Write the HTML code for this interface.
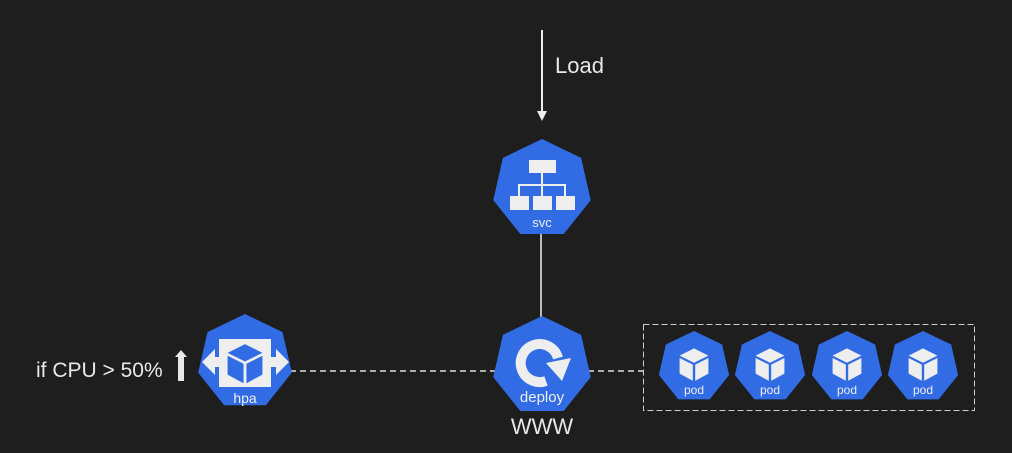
<!DOCTYPE html>
<html><head><meta charset="utf-8"><style>
html,body{margin:0;padding:0;background:#1e1e1e;}
svg{display:block;font-family:"Liberation Sans",Arial,sans-serif;}
</style></head><body>
<svg width="1012" height="453" viewBox="0 0 1012 453" xmlns="http://www.w3.org/2000/svg">
<defs>
<polygon id="hep" points="0,-1 0.7818,-0.6235 0.9749,0.2225 0.4339,0.901 -0.4339,0.901 -0.9749,0.2225 -0.7818,-0.6235" fill="#326ce5"/>
<g id="cube">
<polygon points="0,-13 12,-7 0,-1 -12,-7" fill="#eee"/>
<polygon points="-12,-5 -1,0.5 -1,14 -12,8" fill="#eee"/>
<polygon points="12,-5 1,0.5 1,14 12,8" fill="#eee"/>
</g>
</defs>
<rect width="1012" height="453" fill="#1e1e1e"/>
<line x1="542" y1="30" x2="542" y2="112" stroke="#eee" stroke-width="2"/>
<polygon points="537,111 547,111 542,121" fill="#eee"/>
<text x="555" y="73" fill="#e8e8e8" font-size="22">Load</text>
<line x1="541" y1="232" x2="541" y2="320" stroke="#bbb" stroke-width="2"/>
<line x1="290" y1="371" x2="497" y2="371" stroke="#ddd" stroke-width="1.5" stroke-dasharray="6,4"/>
<line x1="588" y1="371" x2="643" y2="371" stroke="#ddd" stroke-width="1.5" stroke-dasharray="6,4"/>
<rect x="643.5" y="324.5" width="331" height="86" fill="none" stroke="#ccc" stroke-width="1" stroke-dasharray="6,3"/>
<!-- svc -->
<use href="#hep" transform="translate(542,189) scale(50)"/>
<g fill="#eee">
<rect x="529" y="160" width="27" height="13"/>
<rect x="510" y="196" width="19" height="14"/>
<rect x="533" y="196" width="19" height="14"/>
<rect x="556" y="196" width="19" height="14"/>
</g>
<g stroke="#eee" stroke-width="2" fill="none">
<line x1="542" y1="173" x2="542" y2="196"/>
<polyline points="519,196 519,185 565,185 565,196"/>
</g>
<text x="542" y="227" fill="#eee" font-size="13" text-anchor="middle">svc</text>
<!-- deploy -->
<use href="#hep" transform="translate(542,366) scale(50)"/>
<path d="M558,358 A19,19 0 1 0 546,381" stroke="#eee" stroke-width="10" fill="none"/>
<polygon points="546,363 571,358 562,381" fill="#eee"/>
<text x="542" y="402" fill="#eee" font-size="15" text-anchor="middle">deploy</text>
<text x="542" y="434" fill="#e8e8e8" font-size="22" text-anchor="middle">WWW</text>
<!-- hpa -->
<use href="#hep" transform="translate(245,362) scale(48)"/>
<rect x="219" y="339" width="52" height="48" fill="#eee"/>
<polygon points="202,362 215,349 215,357 222,357 222,367 215,367 215,375" fill="#eee"/>
<polygon points="289,362 276,349 276,357 268,357 268,367 276,367 276,375" fill="#eee"/>
<g transform="translate(245,363) scale(1.45)">
<polygon points="0,-13 12,-7 0,-1 -12,-7" fill="#326ce5"/>
<polygon points="-12,-5 -1,0.5 -1,14 -12,8" fill="#326ce5"/>
<polygon points="12,-5 1,0.5 1,14 12,8" fill="#326ce5"/>
</g>
<text x="245" y="403" fill="#eee" font-size="14" text-anchor="middle">hpa</text>
<text x="36" y="377" fill="#e8e8e8" font-size="21">if CPU &gt; 50%</text>
<polygon points="181,350 187,357 184,357 184,381 178,381 178,357 175,357" fill="#e8e8e8"/>
<!-- pods -->
<use href="#hep" transform="translate(694,367) scale(36)"/>
<use href="#cube" transform="translate(694,364) scale(1.2)"/>
<text x="694" y="394" fill="#eee" font-size="12" text-anchor="middle">pod</text>
<use href="#hep" transform="translate(770,367) scale(36)"/>
<use href="#cube" transform="translate(770,364) scale(1.2)"/>
<text x="770" y="394" fill="#eee" font-size="12" text-anchor="middle">pod</text>
<use href="#hep" transform="translate(847,367) scale(36)"/>
<use href="#cube" transform="translate(847,364) scale(1.2)"/>
<text x="847" y="394" fill="#eee" font-size="12" text-anchor="middle">pod</text>
<use href="#hep" transform="translate(923,367) scale(36)"/>
<use href="#cube" transform="translate(923,364) scale(1.2)"/>
<text x="923" y="394" fill="#eee" font-size="12" text-anchor="middle">pod</text>
</svg>
</body></html>
